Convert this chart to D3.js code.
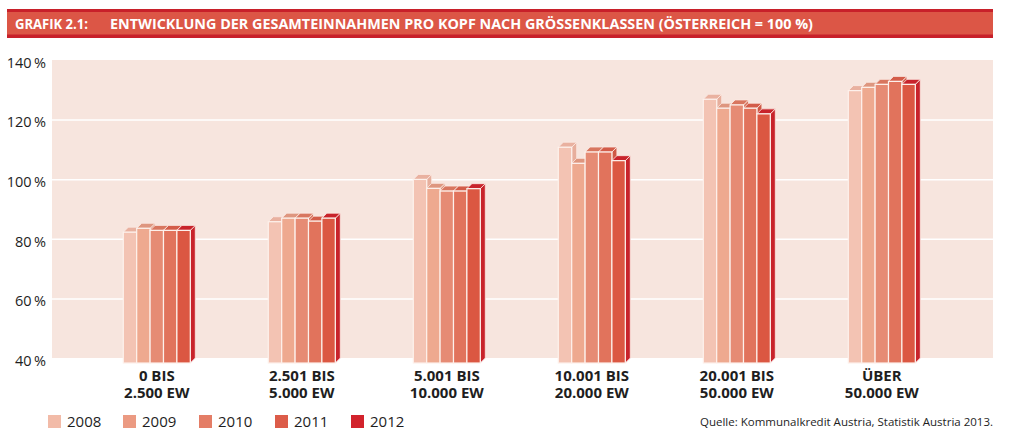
<!DOCTYPE html>
<html>
<head>
<meta charset="utf-8">
<script src="https://cdn.jsdelivr.net/npm/d3@7"></script>
<style>
  body { margin: 0; background: #fff; }
  svg { display: block; font-family: 'Open Sans', 'Noto Sans', sans-serif; }
</style>
</head>
<body>
<svg id="chart" width="1024" height="442"></svg>
<script>
// data
const categories = [
  ['0 BIS', '2.500 EW'],
  ['2.501 BIS', '5.000 EW'],
  ['5.001 BIS', '10.000 EW'],
  ['10.001 BIS', '20.000 EW'],
  ['20.001 BIS', '50.000 EW'],
  ['ÜBER', '50.000 EW']
];
const years = ['2008', '2009', '2010', '2011', '2012'];
const v2008 = [83.9, 87.4, 101.6, 112.4, 128.5, 131.4];
const v2009 = [85.2, 88.6, 98.6, 107.0, 125.5, 132.5];
const v2010 = [84.5, 88.6, 97.7, 110.8, 126.6, 133.5];
const v2011 = [84.5, 87.6, 97.7, 110.8, 125.5, 134.5];
const v2012 = [84.5, 88.6, 98.5, 107.9, 123.6, 133.5];
const yTicks = [40, 60, 80, 100, 120, 140];

const series = [v2008, v2009, v2010, v2011, v2012];

// colours
const legendColor = ['#f2bba8', '#eb9a82', '#e47d66', '#dc5c49', '#d2232c'];
const frontColor = ['#f3c3b3', '#eea98f', '#e68b74', '#e1735c', '#db5742'];
const topColor = ['#e9b1a0', '#de967f', '#d8765f', '#d35c49', '#c8232b'];
const sideColor = ['#e7ae9c', '#dd937c', '#d6735d', '#cf5845', '#c8232b'];

const svg = d3.select('#chart');

// title bar
const title = svg.append('g');
title.append('rect').attr('x', 7).attr('y', 9).attr('width', 986).attr('height', 29).attr('fill', '#c8202a');
title.append('rect').attr('x', 7).attr('y', 12).attr('width', 986).attr('height', 22.5).attr('fill', '#dc5646');
title.append('text').attr('x', 15).attr('y', 29)
  .attr('fill', '#fff').attr('font-size', 14.5).attr('font-weight', 'bold')
  .attr('textLength', 73).attr('lengthAdjust', 'spacingAndGlyphs')
  .text('GRAFIK 2.1:');
title.append('text').attr('x', 110).attr('y', 29)
  .attr('fill', '#fff').attr('font-size', 14.5).attr('font-weight', 'bold')
  .attr('textLength', 703).attr('lengthAdjust', 'spacingAndGlyphs')
  .text('ENTWICKLUNG DER GESAMTEINNAHMEN PRO KOPF NACH GRÖSSENKLASSEN (ÖSTERREICH = 100 %)');

// plot area
const plot = { left: 52, right: 993, top: 60, bottom: 358 };
const depth = 5;

const y = d3.scaleLinear().domain([40, 140]).range([plot.bottom, plot.top]);
const x = d3.scaleBand().domain(d3.range(categories.length))
  .range([123.3, 915.3]).paddingInner(0.538).paddingOuter(0);
const xi = d3.scaleBand().domain(years).range([0, x.bandwidth()]);

svg.append('rect')
  .attr('x', plot.left).attr('y', plot.top)
  .attr('width', plot.right - plot.left).attr('height', plot.bottom - plot.top)
  .attr('fill', '#f7e5de');

// gridlines
svg.append('g')
  .attr('transform', 'translate(' + plot.left + ',0)')
  .call(d3.axisLeft(y).tickValues(yTicks.slice(1, -1)).tickSize(-(plot.right - plot.left)).tickFormat(''))
  .call(g => g.select('.domain').remove())
  .call(g => g.selectAll('line').attr('stroke', '#fff').attr('stroke-width', 1.5));

// y labels
svg.append('g')
  .attr('transform', 'translate(46,0)')
  .call(d3.axisLeft(y).tickValues(yTicks).tickSize(0).tickPadding(0)
    .tickFormat(d => d + '\u2009%'))
  .call(g => g.select('.domain').remove())
  .call(g => g.selectAll('text')
    .attr('font-family', "'Open Sans', sans-serif")
    .attr('font-size', 14.5).attr('fill', '#1e1e1e').attr('dy', '0.5em'));

// 3d bars
const groups = svg.selectAll('.cat')
  .data(categories)
  .enter().append('g')
  .attr('class', 'cat')
  .attr('transform', (d, i) => 'translate(' + x(i) + ',0)');

groups.each(function(d, ci) {
  const g = d3.select(this);
  years.forEach(function(yr, si) {
    const v = series[si][ci];
    const x0 = xi(yr);
    const w = xi.bandwidth();
    const yt = y(v) + depth;
    const yb = y(40) + depth;
    const bar = g.append('g').attr('class', 'bar');
    // side
    bar.append('path')
      .attr('d', 'M' + (x0 + w) + ',' + yt + 'L' + (x0 + w + depth) + ',' + (yt - depth) +
        'L' + (x0 + w + depth) + ',' + (yb - depth) + 'L' + (x0 + w) + ',' + yb + 'Z')
      .attr('fill', sideColor[si]).attr('stroke', '#fbeae3').attr('stroke-width', 0.8);
    // top
    bar.append('path')
      .attr('d', 'M' + x0 + ',' + yt + 'L' + (x0 + depth) + ',' + (yt - depth) +
        'L' + (x0 + w + depth) + ',' + (yt - depth) + 'L' + (x0 + w) + ',' + yt + 'Z')
      .attr('fill', topColor[si]).attr('stroke', '#fbeae3').attr('stroke-width', 0.8);
    // front
    bar.append('rect')
      .attr('x', x0).attr('y', yt).attr('width', w).attr('height', yb - yt)
      .attr('fill', frontColor[si]).attr('stroke', '#fdf1ec').attr('stroke-width', 1.2);
  });
});

// category labels
groups.append('text')
  .attr('x', x.bandwidth() / 2)
  .attr('text-anchor', 'middle')
  .attr('font-size', 15).attr('font-weight', 'bold').attr('fill', '#1e1e1e')
  .selectAll('tspan')
  .data(d => d)
  .enter().append('tspan')
  .attr('x', x.bandwidth() / 2)
  .attr('y', (d, i) => 381 + i * 16.5)
  .text(d => d);

// legend
const legendX = [48, 123, 199, 275, 351];
const legend = svg.selectAll('.legend')
  .data(years)
  .enter().append('g')
  .attr('class', 'legend')
  .attr('transform', (d, i) => 'translate(' + legendX[i] + ',415)');
legend.append('rect').attr('width', 13).attr('height', 13)
  .attr('fill', (d, i) => legendColor[i]);
legend.append('text').attr('x', 19).attr('y', 11.5)
  .attr('font-size', 15).attr('fill', '#1e1e1e')
  .text(d => d);

// source
svg.append('text')
  .attr('x', 993).attr('y', 426)
  .attr('text-anchor', 'end')
  .attr('font-size', 11.5).attr('fill', '#1e1e1e')
  .text('Quelle: Kommunalkredit Austria, Statistik Austria 2013.');
</script>
</body>
</html>
